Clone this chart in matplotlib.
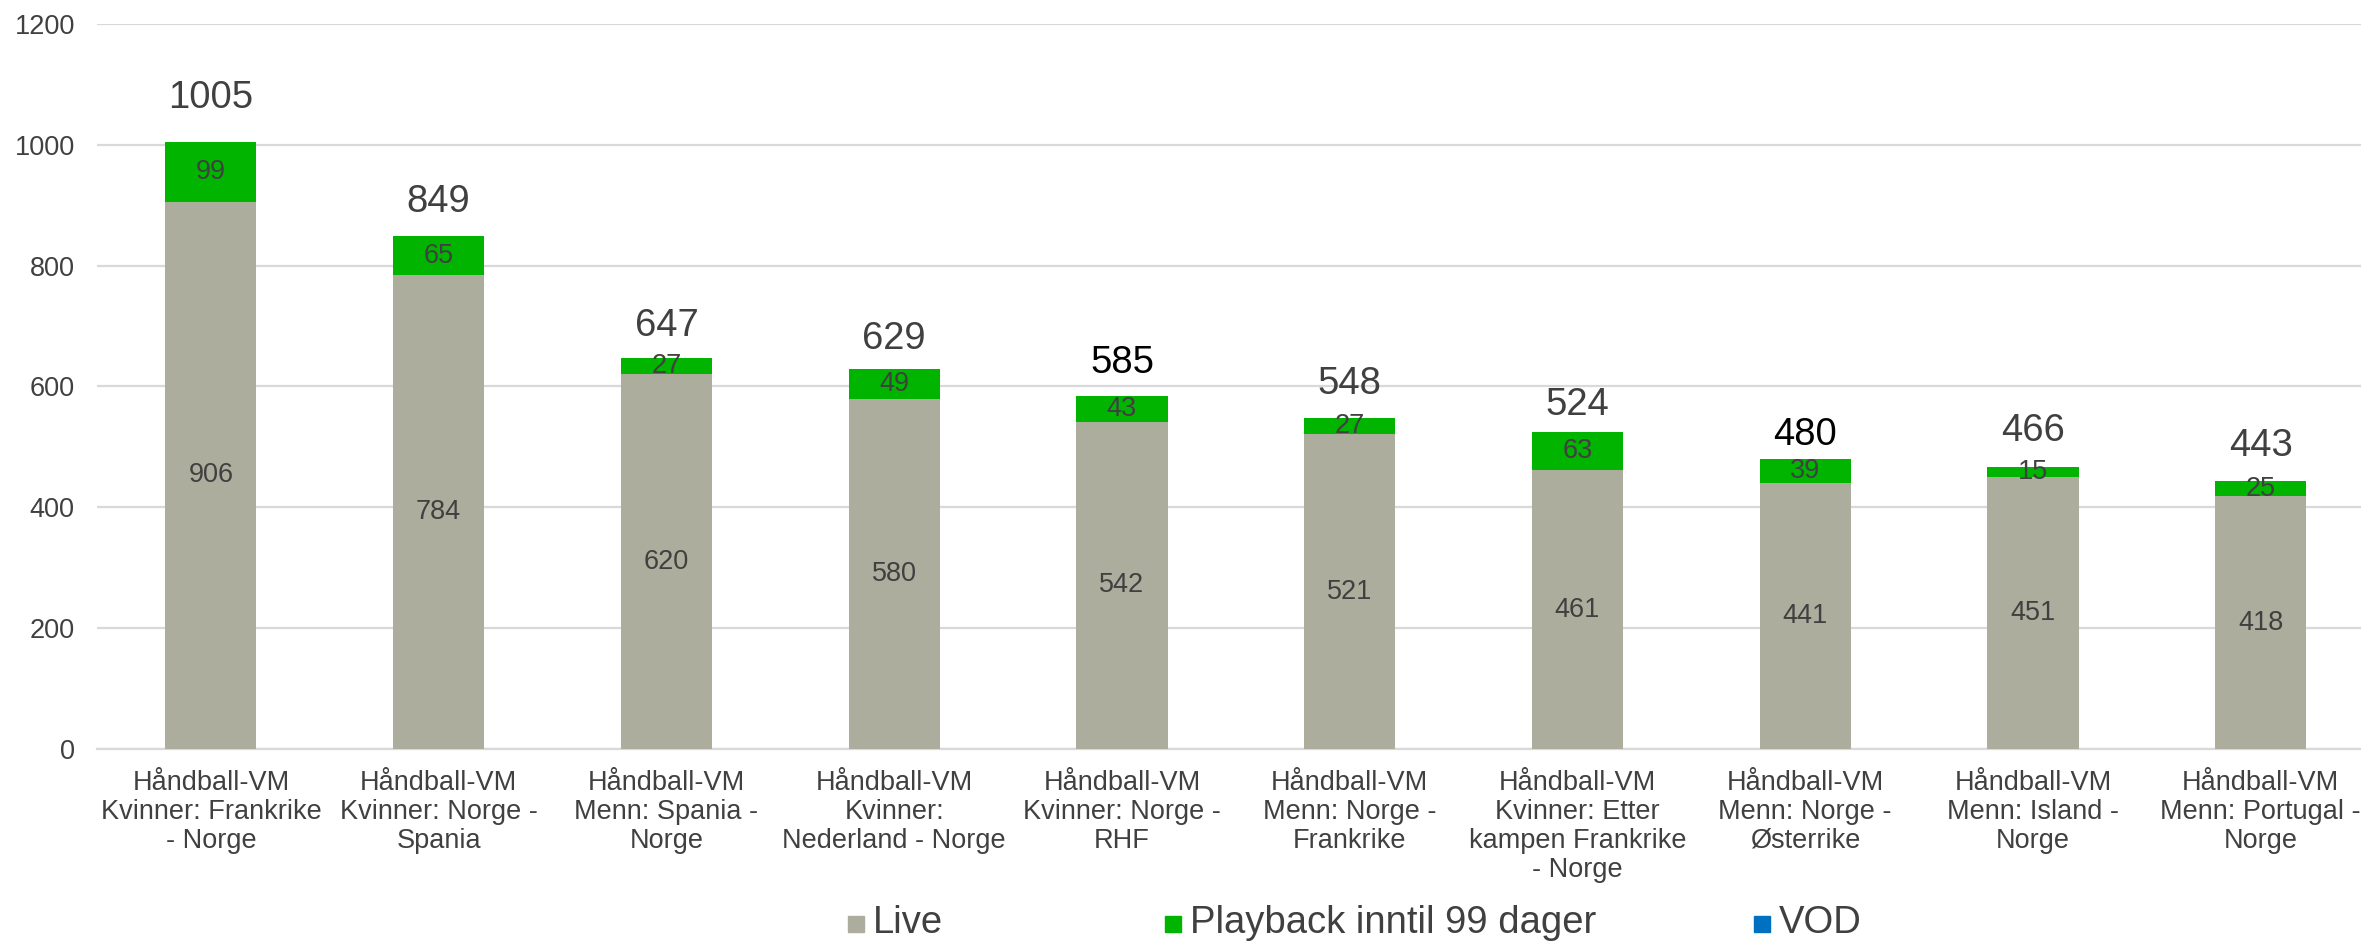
import matplotlib
matplotlib.use("Agg")
import matplotlib.pyplot as plt
from matplotlib.patches import Rectangle
import numpy as np

plt.rcParams['font.family'] = ['Liberation Sans', 'DejaVu Sans']

# ---- data ----
categories = [
    "Håndball-VM\nKvinner: Frankrike\n- Norge",
    "Håndball-VM\nKvinner: Norge -\nSpania",
    "Håndball-VM\nMenn: Spania -\nNorge",
    "Håndball-VM\nKvinner:\nNederland - Norge",
    "Håndball-VM\nKvinner: Norge -\nRHF",
    "Håndball-VM\nMenn: Norge -\nFrankrike",
    "Håndball-VM\nKvinner: Etter\nkampen Frankrike\n- Norge",
    "Håndball-VM\nMenn: Norge -\nØsterrike",
    "Håndball-VM\nMenn: Island -\nNorge",
    "Håndball-VM\nMenn: Portugal -\nNorge",
]
live = [906, 784, 620, 580, 542, 521, 461, 441, 451, 418]
playback = [99, 65, 27, 49, 43, 27, 63, 39, 15, 25]
vod = [0, 0, 0, 0, 0, 0, 0, 0, 0, 0]
series_names = ["Live", "Playback inntil 99 dager", "VOD"]
yticks = [0, 200, 400, 600, 800, 1000, 1200]

# ---- style ----
c_live = "#ADAD9D"
c_play = "#00B400"
c_vod = "#0070C0"
txt = "#404040"
fs_small = 19.5
fs_big = 27.5
total_offsets_px = [34, 24, 22, 20, 23, 24, 17, 14, 26, 25]
total_colors = [txt, txt, txt, txt, "#000000", txt, txt, "#000000", txt, txt]

W, H = 2361, 943
fig = plt.figure(figsize=(W / 100, H / 100), dpi=100)
ax = fig.add_axes([97 / W, (H - 749) / H, 1 - 97 / W, (749 - 24) / H])

x = np.arange(len(categories))
live_a = np.array(live)
play_a = np.array(playback)
vod_a = np.array(vod)
totals = live_a + play_a + vod_a

bw = 0.4
ax.bar(x, live_a, bw, color=c_live, zorder=3)
ax.bar(x, play_a, bw, bottom=live_a, color=c_play, zorder=3)
ax.bar(x, vod_a, bw, bottom=live_a + play_a, color=c_vod, zorder=3)

for i in range(len(x)):
    ax.text(x[i], live_a[i] / 2, str(live_a[i]), ha='center', va='center',
            fontsize=fs_small, color=txt, zorder=4)
    ax.text(x[i], live_a[i] + play_a[i] / 2, str(play_a[i]), ha='center', va='center',
            fontsize=fs_small, color=txt, zorder=4)
    ax.annotate(str(totals[i]), xy=(x[i], totals[i]), xytext=(0, total_offsets_px[i]),
                textcoords='offset pixels', ha='center', va='baseline',
                fontsize=fs_big, color=total_colors[i], zorder=4)

ax.set_ylim(0, 1200)
ax.set_xlim(-0.5, 9.44)
ax.set_yticks(yticks)
ax.set_yticklabels([str(v) for v in yticks])
ax.set_xticks(x)
ax.set_xticklabels(categories, fontsize=fs_small, color=txt, linespacing=1.15)
ax.tick_params(axis='y', length=0, pad=16, labelsize=fs_small, labelcolor=txt)
ax.tick_params(axis='x', length=0, pad=15)
ax.grid(axis='y', color="#D9D9D9", linewidth=1.6, zorder=0)
for s in ['top', 'right', 'left']:
    ax.spines[s].set_visible(False)
ax.spines['bottom'].set_color("#D9D9D9")
ax.spines['bottom'].set_linewidth(1.6)
ax.set_axisbelow(True)

# ---- legend (manual, figure pixels) ----
leg_x = [848, 1165, 1754]
leg_colors = [c_live, c_play, c_vod]
for lx, col, name in zip(leg_x, leg_colors, series_names):
    fig.patches.append(Rectangle((lx / W, (H - 932) / H), 16 / W, 16 / H,
                                 transform=fig.transFigure, color=col))
    fig.text((lx + 25) / W, (H - 933) / H, name, fontsize=fs_big, color=txt,
             ha='left', va='baseline')

fig.savefig("out.png", dpi=100)
